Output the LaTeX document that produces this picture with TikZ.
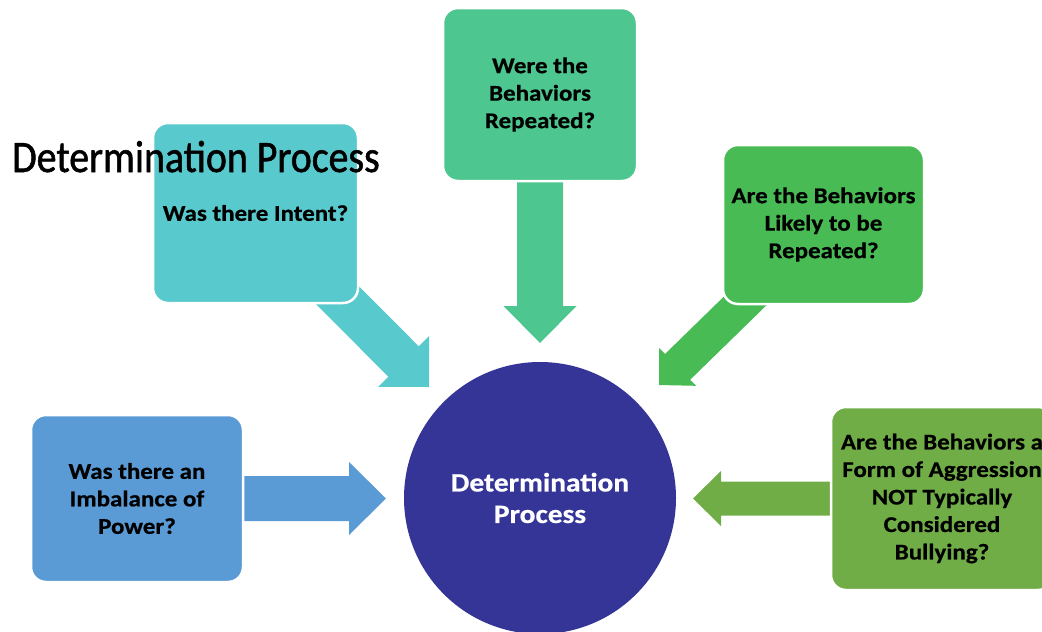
\documentclass[tikz,border=0pt]{standalone}
\usepackage{fontspec}
\setmainfont{Carlito}
\newfontfamily\qtitlefam[FakeStretch=0.886, FakeBold=1.2]{Carlito}
\newfontfamily\qwidefam[FakeStretch=1.11, FakeBold=0.6]{Carlito}
\usetikzlibrary{calc}

\definecolor{qTop}{RGB}{77,198,143}
\definecolor{qIntent}{RGB}{88,201,204}
\definecolor{qLikely}{RGB}{72,187,84}
\definecolor{qPower}{RGB}{91,155,213}
\definecolor{qAggr}{RGB}{112,173,71}
\definecolor{qCore}{RGB}{53,53,152}

\newcommand{\qboxfont}{\qwidefam\fontsize{22.5}{27.5}\selectfont\bfseries}

% block arrow: #1 fill, #2 start, #3 tip, #4 half shaft width, #5 half head width, #6 head length
\newcommand{\blockarrow}[6]{%
  \coordinate (hb) at ($(#3)!#6!(#2)$);
  \fill[#1] ($(#2)!#4!90:(#3)$) -- ($(hb)!#4!90:(#3)$) -- ($(hb)!#5!90:(#3)$) -- (#3)
    -- ($(hb)!#5!-90:(#3)$) -- ($(hb)!#4!-90:(#3)$) -- ($(#2)!#4!-90:(#3)$) -- cycle;}

\tikzset{
  qbox/.style={rounded corners=15pt, draw=white, line width=2.5pt, align=center,
    inner sep=0pt, font=\qboxfont, text=black},
}

\begin{document}
\begin{tikzpicture}[x=1pt, y=-1pt]
  \useasboundingbox (0,0) rectangle (1042,632);
  \clip (0,0) rectangle (1042,632);

  % anchor points of the questions and the arrow tips
  \coordinate (cT) at (540,94.5);
  \coordinate (cI) at (255.5,213);
  \coordinate (cL) at (823.5,224.5);
  \coordinate (cP) at (137,498.5);
  \coordinate (cA) at (942,498.5);
  \coordinate (tipT) at (540,343);
  \coordinate (tipI) at (429,387);
  \coordinate (tipL) at (659,385);
  \coordinate (tipP) at (386,498.5);
  \coordinate (tipA) at (693,498.5);

  % arrows pointing to the centre
  \blockarrow{qTop}{cT}{tipT}{23pt}{36.5pt}{37pt}
  \blockarrow{qIntent}{cI}{tipI}{21.5pt}{36pt}{36pt}
  \blockarrow{qLikely}{cL}{tipL}{18pt}{26.5pt}{26pt}
  \blockarrow{qPower}{cP}{tipP}{22.5pt}{36.5pt}{37pt}
  \blockarrow{qAggr}{cA}{tipA}{17pt}{27.5pt}{28pt}

  % question boxes
  \node[qbox, fill=qTop, minimum width=194pt, minimum height=173pt] (T) at (cT)
    {Were the\\Behaviors\\Repeated?};
  \node[qbox, fill=qIntent, minimum width=205pt, minimum height=180pt] (I) at (cI)
    {Was there Intent?};
  \node[qbox, fill=qLikely, minimum width=201pt, minimum height=159pt] (L) at (cL)
    {Are the Behaviors\\Likely to be\\Repeated?};
  \node[qbox, fill=qPower, minimum width=212pt, minimum height=167pt] (P) at (cP)
    {Was there an\\Imbalance of\\Power?};
  \node[qbox, fill=qAggr, minimum width=222pt, minimum height=183pt] (A) at (cA)
    {Are the Behaviors a\\Form of Aggression\\NOT Typically\\Considered\\Bullying?};

  % central circle
  \node[circle, fill=qCore, minimum size=272pt, inner sep=0pt, align=center, text=white,
    font=\qwidefam\fontsize{26.5}{31.5}\selectfont\bfseries] (C) at (540,498)
    {Determination\\Process};

  % title
  \node[anchor=base west, inner sep=0pt, font=\qtitlefam\fontsize{45}{54}\selectfont] (title) at (12,172)
    {Determination Process};
\end{tikzpicture}
\end{document}
